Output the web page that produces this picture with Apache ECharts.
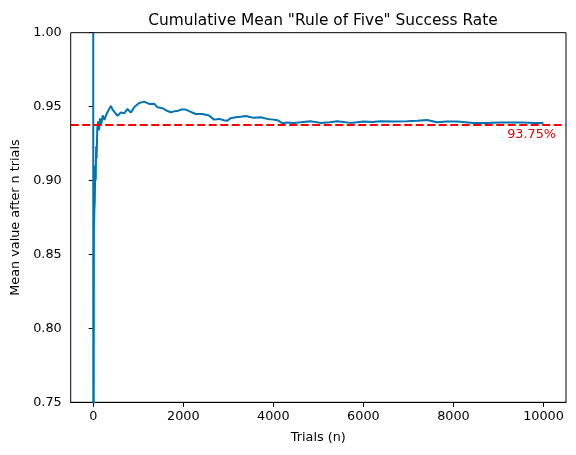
<!DOCTYPE html>
<html>
<head>
<meta charset="utf-8">
<script src="https://cdn.jsdelivr.net/npm/echarts@6/dist/echarts.min.js"></script>
<style>
html,body{margin:0;padding:0;background:#fff;}
#chart{width:576px;height:455px;}
</style>
</head>
<body>
<div id="chart"></div>
<script>
// Trial numbers (n) and cumulative mean after n trials
const trialN = [1,2,5,10,15,25,35,45,55,65,75,90,110,130,150,180,210,250,282,330,392,430,466,540,614,688,762,836,909,1020,1131,1242,1353,1427,1538,1649,1725,1797,1871,1945,2055,2166,2277,2425,2572,2683,2800,2900,2980,3050,3164,3274,3386,3480,3570,3718,3866,4000,4089,4200,4300,4457,4605,4827,5049,5250,5419,5714,6009,6200,6379,6674,6971,7200,7415,7636,7850,8080,8448,8745,9000,9188,9557,9800,9999];
const meanValue = [1.0,0.5,0.6,0.7,0.8667,0.88,0.886,0.91,0.90,0.923,0.915,0.935,0.94,0.934,0.942,0.938,0.944,0.941,0.944,0.947,0.9505,0.948,0.947,0.9438,0.946,0.9455,0.9484,0.946,0.9495,0.9525,0.9534,0.9518,0.952,0.9495,0.9489,0.947,0.9462,0.9468,0.947,0.948,0.948,0.9465,0.945,0.945,0.944,0.9412,0.9417,0.9408,0.9405,0.9422,0.9428,0.9432,0.9437,0.943,0.9424,0.9428,0.9417,0.9412,0.9408,0.9388,0.9392,0.939,0.9394,0.9401,0.939,0.9395,0.9401,0.939,0.9399,0.9396,0.9401,0.9399,0.9401,0.9404,0.941,0.9394,0.9399,0.9399,0.939,0.939,0.9393,0.9392,0.9392,0.939,0.939];
const xTicks = [0,2000,4000,6000,8000,10000];
const yTicks = [0.75,0.80,0.85,0.90,0.95,1.00];
const xRange = [-500, 10500];
const targetRate = 0.9375;
const targetLabel = '93.75%';

const font = 'DejaVu Sans';
const chart = echarts.init(document.getElementById('chart'), null, {renderer:'canvas'});
chart.setOption({
  animation:false,
  backgroundColor:'#fff',
  title:{
    text:'Cumulative Mean "Rule of Five" Success Rate',
    left:318, top:8, textAlign:'center',
    textStyle:{fontFamily:font,fontSize:15.4,fontWeight:'normal',color:'#000'}
  },
  grid:{left:70.7,right:10,top:32.7,bottom:52.7,show:true,borderColor:'#000',borderWidth:1,backgroundColor:'transparent'},
  xAxis:{
    type:'value',min:xRange[0],max:xRange[1],
    name:'Trials (n)',nameLocation:'middle',nameGap:29,
    nameTextStyle:{fontFamily:font,fontSize:12.8,color:'#000'},
    axisLine:{show:true,lineStyle:{color:'#000',width:1}},
    axisTick:{show:true,inside:false,length:4.5,lineStyle:{color:'#000'},customValues:xTicks},
    axisLabel:{fontFamily:font,fontSize:12.8,color:'#000',margin:8,customValues:xTicks,formatter:v=>String(v)},
    splitLine:{show:false}
  },
  yAxis:{
    type:'value',min:0.75,max:1.0,
    name:'Mean value after n trials',nameLocation:'middle',nameGap:48,
    nameTextStyle:{fontFamily:font,fontSize:12.8,color:'#000'},
    axisLine:{show:true,lineStyle:{color:'#000',width:1}},
    axisTick:{show:true,inside:false,length:4.5,lineStyle:{color:'#000'},customValues:yTicks},
    axisLabel:{fontFamily:font,fontSize:12.8,color:'#000',margin:9,customValues:yTicks,formatter:v=>v.toFixed(2)},
    splitLine:{show:false}
  },
  series:[{
    type:'line',
    data:trialN.map((n,i)=>[n,meanValue[i]]),
    showSymbol:false,symbol:'none',
    clip:true,
    lineStyle:{color:'#0173b2',width:2},
    z:2
  },{
    type:'line',
    data:xRange.map(x=>[x,targetRate]),
    showSymbol:false,symbol:'none',
    silent:true,
    lineStyle:{color:'#ff0000',type:[8,3.5],width:2},
    z:3,
    markPoint:{
      silent:true,
      symbol:'circle',symbolSize:1,
      itemStyle:{color:'rgba(0,0,0,0)'},
      data:[{coord:[xRange[1],targetRate]}],
      label:{show:true,position:'bottom',distance:3,align:'right',verticalAlign:'top',
        offset:[-10,0],formatter:targetLabel,
        fontFamily:font,fontSize:12.8,color:'#e00000'}
    }
  }]
});
</script>
</body>
</html>
